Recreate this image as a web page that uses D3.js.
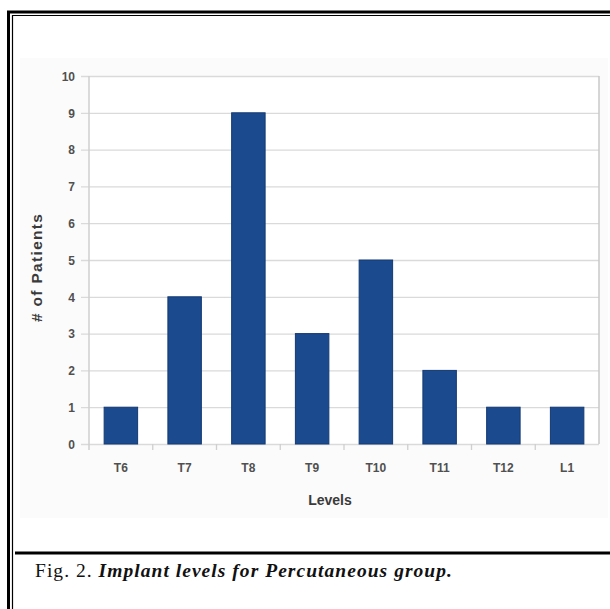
<!DOCTYPE html>
<html>
<head>
<meta charset="utf-8">
<script src="https://cdn.jsdelivr.net/npm/d3@7"></script>
<style>
  html, body { margin: 0; padding: 0; background: #fff; }
  svg { display: block; }
</style>
</head>
<body>
<svg id="fig" width="610" height="609"></svg>
<script>
// Implant levels, number of patients per vertebral level
const categories = ["T6", "T7", "T8", "T9", "T10", "T11", "T12", "L1"];
const patients = [1, 4, 9, 3, 5, 2, 1, 1];
const yTicks = [0, 1, 2, 3, 4, 5, 6, 7, 8, 9, 10];
const xTitle = "Levels";
const yTitle = "# of Patients";

const svg = d3.select("#fig");

// Figure frame: double rule on the top and left, rule above the caption
const frame = svg.append("g");
frame.append("line").attr("x1", 8.5).attr("x2", 8.5).attr("y1", 11).attr("y2", 609)
  .attr("stroke", "#000").attr("stroke-width", 3);
frame.append("line").attr("x1", 7).attr("x2", 610).attr("y1", 12).attr("y2", 12)
  .attr("stroke", "#000").attr("stroke-width", 3);
frame.append("line").attr("x1", 12.5).attr("x2", 12.5).attr("y1", 15).attr("y2", 609)
  .attr("stroke", "#000").attr("stroke-width", 1.2);
frame.append("line").attr("x1", 12).attr("x2", 610).attr("y1", 15.5).attr("y2", 15.5)
  .attr("stroke", "#000").attr("stroke-width", 1.2);
frame.append("line").attr("x1", 15).attr("x2", 610).attr("y1", 553).attr("y2", 553)
  .attr("stroke", "#000").attr("stroke-width", 3);

// Faint chart-area background
svg.append("rect").attr("x", 20).attr("y", 58).attr("width", 588).attr("height", 460)
  .attr("fill", "#fbfbfb");

const plot = { left: 89, right: 599, top: 76, bottom: 444 };

const x = d3.scaleBand()
  .domain(categories)
  .range([plot.left, plot.right])
  .paddingInner(0.475)
  .paddingOuter(0.2375);

const y = d3.scaleLinear()
  .domain([0, 10])
  .range([plot.bottom, plot.top]);

const chart = svg.append("g").attr("font-family", "'Liberation Sans', Arial, sans-serif");

// Plot area background
chart.append("rect")
  .attr("x", plot.left).attr("y", plot.top)
  .attr("width", plot.right - plot.left).attr("height", plot.bottom - plot.top)
  .attr("fill", "#fff");

// Horizontal gridlines with short ticks left of the axis
const yAxis = d3.axisLeft(y)
  .tickValues(yTicks)
  .tickSize(-(plot.right - plot.left))
  .tickSizeOuter(0)
  .tickPadding(14)
  .tickFormat(d3.format("d"));

const gy = chart.append("g")
  .attr("transform", `translate(${plot.left},0)`)
  .call(yAxis);
gy.select(".domain").remove();
gy.selectAll(".tick line")
  .attr("x1", -8)
  .attr("stroke", "#dadada")
  .attr("stroke-width", 1.3);
gy.selectAll(".tick text")
  .attr("fill", "#505050")
  .attr("font-size", 12)
  .attr("font-weight", "bold")
  .attr("dy", "0.36em");

// Right edge of the plot area
chart.append("line")
  .attr("x1", plot.right).attr("x2", plot.right)
  .attr("y1", plot.top).attr("y2", plot.bottom)
  .attr("stroke", "#c8c8c8").attr("stroke-width", 1.5);

// Bars
chart.append("g").selectAll("rect")
  .data(categories.map((c, i) => ({ c, v: patients[i] })))
  .join("rect")
  .attr("x", d => x(d.c))
  .attr("y", d => y(d.v))
  .attr("width", x.bandwidth())
  .attr("height", d => y(0) - y(d.v))
  .attr("fill", "#1b4a8f")
  .attr("stroke", "#143a72")
  .attr("stroke-width", 1);

// Vertical axis line
chart.append("line")
  .attr("x1", plot.left).attr("x2", plot.left)
  .attr("y1", plot.top).attr("y2", plot.bottom + 6)
  .attr("stroke", "#cfcfcf").attr("stroke-width", 1.5);

// Category boundary ticks below the baseline
const step = x.step();
const boundaries = categories.slice(1).map(c => x(c) - x.paddingInner() * step / 2);
chart.append("g").selectAll("line")
  .data(boundaries)
  .join("line")
  .attr("x1", d => d).attr("x2", d => d)
  .attr("y1", plot.bottom).attr("y2", plot.bottom + 6)
  .attr("stroke", "#cfcfcf").attr("stroke-width", 1.3);

// Category labels
chart.append("g").selectAll("text")
  .data(categories)
  .join("text")
  .attr("x", d => x(d) + x.bandwidth() / 2)
  .attr("y", 472)
  .attr("text-anchor", "middle")
  .attr("font-size", 12)
  .attr("font-weight", "bold")
  .attr("fill", "#505050")
  .text(d => d);

// Axis titles
chart.append("text")
  .attr("x", 330)
  .attr("y", 505)
  .attr("text-anchor", "middle")
  .attr("font-size", 14)
  .attr("font-weight", "bold")
  .attr("fill", "#3a3a3a")
  .text(xTitle);

chart.append("text")
  .attr("transform", "translate(42,268) rotate(-90)")
  .attr("text-anchor", "middle")
  .attr("font-size", 15.5)
  .attr("font-weight", "bold")
  .attr("fill", "#3a3a3a")
  .attr("textLength", 108)
  .attr("lengthAdjust", "spacing")
  .text(yTitle);

// Caption
const caption = svg.append("text")
  .attr("x", 35)
  .attr("y", 577)
  .attr("font-family", "'Liberation Serif', 'DejaVu Serif', serif")
  .attr("font-size", 19.5)
  .attr("fill", "#111");
caption.append("tspan").text("Fig. 2. ");
caption.append("tspan")
  .attr("font-style", "italic")
  .attr("font-weight", "bold")
  .text("Implant levels for Percutaneous group.");

// Spread the caption across its line width
const captionWidth = 418;
const natural = caption.node().getComputedTextLength();
const nChars = caption.text().length;
caption.attr("letter-spacing", ((captionWidth - natural) / nChars).toFixed(3));
</script>
</body>
</html>
